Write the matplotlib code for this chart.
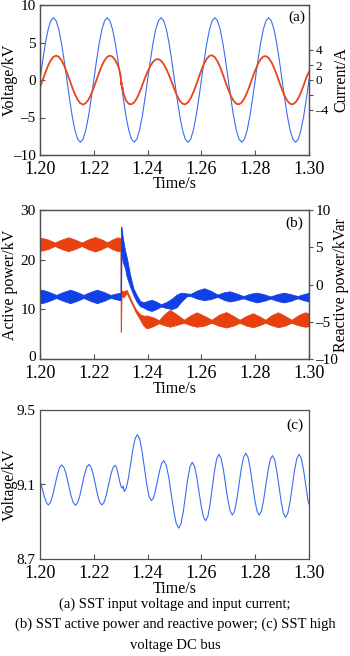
import numpy as np
import matplotlib
matplotlib.use("Agg")
import matplotlib.pyplot as plt
from matplotlib.transforms import ScaledTranslation

plt.rcParams['font.family'] = ['Liberation Serif', 'DejaVu Serif']


# ---- (a) SST input voltage and input current ----
time_a = np.round(1.2 + np.arange(101) * 0.001, 4)
voltage_a = [0.00, 2.56, 4.88, 6.71, 7.89, 8.30, 7.89, 6.71, 4.88, 2.56,
             0.00, -2.56, -4.88, -6.71, -7.89, -8.30, -7.89, -6.71, -4.88, -2.56,
             0.00, 2.56, 4.88, 6.71, 7.89, 8.30, 7.89, 6.71, 4.88, 2.56,
             0.00, -2.56, -4.88, -6.71, -7.89, -8.30, -7.89, -6.71, -4.88, -2.56,
             0.00, 2.56, 4.88, 6.71, 7.89, 8.30, 7.89, 6.71, 4.88, 2.56,
             0.00, -2.56, -4.88, -6.71, -7.89, -8.30, -7.89, -6.71, -4.88, -2.56,
             0.00, 2.56, 4.88, 6.71, 7.89, 8.30, 7.89, 6.71, 4.88, 2.56,
             0.00, -2.56, -4.88, -6.71, -7.89, -8.30, -7.89, -6.71, -4.88, -2.56,
             0.00, 2.56, 4.88, 6.71, 7.89, 8.30, 7.89, 6.71, 4.88, 2.56,
             0.00, -2.56, -4.88, -6.71, -7.89, -8.30, -7.89, -6.71, -4.88, -2.56,
             0.00]

current_time = np.concatenate([
    1.2 + np.arange(30) * 0.001,
    [1.2295, 1.2300, 1.2302, 1.2303, 1.2305, 1.2307, 1.2310],
    1.232 + np.arange(69) * 0.001,
])
current_a = [-1.00, 0.00, 1.00, 1.91, 2.63, 3.09, 3.25, 3.09, 2.63, 1.91,
             1.00, 0.00, -1.00, -1.91, -2.63, -3.09, -3.28, -3.09, -2.63, -1.91,
             -1.00, 0.00, 1.00, 1.91, 2.63, 3.09, 3.25, 3.09, 2.63, 1.91,
             1.35, 0.60, -0.60, -0.30, -1.20, -1.00, -1.80,
             -2.75, -3.17, -3.24, -2.98, -2.44, -1.65, -0.71, 0.26,
             1.11, 1.85, 2.41, 2.73, 2.79, 2.57, 2.10, 1.43, 0.61, -0.31,
             -1.29, -2.15, -2.80, -3.17, -3.24, -2.98, -2.44, -1.65, -0.71, 0.31,
             1.31, 2.18, 2.84, 3.22, 3.29, 3.03, 2.48, 1.68, 0.72, -0.31,
             -1.29, -2.15, -2.80, -3.17, -3.24, -2.98, -2.44, -1.65, -0.71, 0.30,
             1.27, 2.12, 2.76, 3.12, 3.19, 2.94, 2.40, 1.63, 0.70, -0.31,
             -1.29, -2.15, -2.80, -3.17, -3.24, -2.98, -2.44, -1.65, -0.71, 0.31,
             1.10]

# ---- (b) active power (band) / reactive power (band) ----
p_time = [1.2000, 1.2005, 1.2030, 1.2055, 1.2080, 1.2105, 1.2130, 1.2155, 1.2180,
          1.2205, 1.2228, 1.2250, 1.2270, 1.2290, 1.22995, 1.2300, 1.2301,
          1.2303, 1.2310, 1.2322, 1.2340, 1.2355, 1.2370, 1.2385, 1.2397,
          1.2420, 1.2442, 1.2462, 1.2483, 1.2510, 1.2535, 1.2560, 1.2583,
          1.2610, 1.2638, 1.2665, 1.2692, 1.2718, 1.2742, 1.2768, 1.2792,
          1.2815, 1.2838, 1.2860, 1.2885, 1.2910, 1.2935, 1.2960, 1.2985, 1.3000]
p_low = [21.9, 21.8, 22.15, 22.75, 22.15, 21.7, 22.15, 22.75, 22.1,
         21.65, 22.1, 22.7, 22.1, 21.7, 21.9, 5.5, 5.5,
         12.8, 12.4, 13.3, 11.25, 9.5, 8.1, 6.7, 6.15,
         6.6, 7.2, 6.8, 6.5, 6.9, 7.3, 6.8, 6.5,
         6.7, 7.3, 6.7, 6.35, 6.7, 7.3, 6.7, 6.4,
         6.8, 7.3, 6.8, 6.4, 6.7, 7.3, 6.8, 6.5, 6.6]
p_high = [24.3, 24.4, 24.05, 23.45, 24.05, 24.5, 24.05, 23.45, 24.1,
          24.55, 24.1, 23.5, 24.1, 24.5, 24.3, 24.0, 14.0,
          13.8, 13.6, 13.9, 11.75, 10.1, 9.1, 8.7, 8.75,
          8.4, 7.8, 9.0, 9.9, 8.9, 7.9, 8.8, 9.4,
          8.7, 7.9, 8.9, 9.45, 8.7, 7.9, 8.7, 9.2,
          8.6, 7.9, 8.8, 9.4, 8.7, 7.9, 8.8, 9.4, 9.2]

q_time = [1.2000, 1.2008, 1.2034, 1.2060, 1.2087, 1.2112, 1.2137, 1.2162, 1.2187,
          1.2212, 1.2237, 1.2262, 1.2285, 1.22995, 1.2301, 1.2303, 1.2308,
          1.2316, 1.2322, 1.2335, 1.2347, 1.2359, 1.2372, 1.2385, 1.2400,
          1.2415, 1.2432, 1.2450, 1.2470, 1.2490, 1.2508, 1.2525, 1.2545,
          1.2560, 1.2585, 1.2610, 1.2635, 1.2660, 1.2683, 1.2706, 1.2730,
          1.2756, 1.2781, 1.2806, 1.2831, 1.2857, 1.2882, 1.2907, 1.2932,
          1.2957, 1.2980, 1.3000]
q_low = [-2.4, -2.5, -2.2, -1.8, -2.2, -2.5, -2.2, -1.8, -2.2,
         -2.5, -2.2, -1.8, -2.0, -2.1, -2.0, 4.5, 3.0,
         2.2, 1.1, -0.3, -1.4, -2.3, -2.9, -3.1, -3.4,
         -3.55, -3.3, -2.95, -3.15, -3.3, -3.05, -2.3, -1.6,
         -1.55, -1.9, -2.1, -1.95, -1.65, -2.05, -2.28, -2.1,
         -1.85, -2.15, -2.4, -2.2, -1.9, -2.2, -2.4, -2.2,
         -1.85, -2.1, -2.3]
q_high = [-0.8, -0.7, -1.0, -1.4, -1.0, -0.7, -1.0, -1.4, -1.0,
          -0.7, -1.0, -1.4, -1.2, -1.1, 7.7, 7.7, 6.2,
          4.6, 3.7, 1.3, -0.5, -1.4, -2.2, -2.4, -2.2,
          -2.05, -2.3, -2.65, -2.35, -1.9, -1.35, -1.1, -1.2,
          -1.25, -0.8, -0.5, -0.85, -1.35, -1.05, -0.92, -1.2,
          -1.55, -1.25, -1.1, -1.3, -1.6, -1.3, -1.1, -1.3,
          -1.55, -1.3, -1.1]

# ---- (c) high voltage DC bus ----
dc_time = [1.2000, 1.2008, 1.2016, 1.2024, 1.2031,
           1.20393, 1.20477, 1.2056, 1.20643, 1.20727, 1.2081,
           1.20895, 1.2098, 1.21065, 1.2115, 1.21235, 1.2132,
           1.21403, 1.21487, 1.2157, 1.21653, 1.21737, 1.2182,
           1.2190, 1.2198, 1.2206, 1.2214, 1.2222, 1.2230,
           1.22382, 1.22463, 1.22545, 1.22627, 1.22708, 1.2279,
           1.22835, 1.2288, 1.22925, 1.2297, 1.23015, 1.2306,
           1.2309, 1.2313,
           1.23212, 1.23293, 1.23375, 1.23457, 1.23538, 1.2362,
           1.23707, 1.23793, 1.2388, 1.23967, 1.24053, 1.2414,
           1.24217, 1.24293, 1.2437, 1.24447, 1.24523, 1.2460,
           1.24693, 1.24787, 1.2488, 1.24973, 1.25067, 1.2516,
           1.25243, 1.25327, 1.2541, 1.25493, 1.25577, 1.2566,
           1.25743, 1.25827, 1.2591, 1.25993, 1.26077, 1.2616,
           1.26242, 1.26323, 1.26405, 1.26487, 1.26568, 1.2665,
           1.26733, 1.26817, 1.2690, 1.26983, 1.27067, 1.2715,
           1.27233, 1.27317, 1.2740, 1.27483, 1.27567, 1.2765,
           1.27733, 1.27817, 1.2790, 1.27983, 1.28067, 1.2815,
           1.28232, 1.28313, 1.28395, 1.28477, 1.28558, 1.2864,
           1.28722, 1.28803, 1.28885, 1.28967, 1.29048, 1.2913,
           1.29213, 1.29297, 1.2938, 1.29463, 1.29547, 1.2963,
           1.29713, 1.29797, 1.2988, 1.29963, 1.3000]
dc_volt = [9.120, 9.080, 9.035, 9.003, 8.990,
           9.004, 9.044, 9.098, 9.151, 9.191, 9.205,
           9.190, 9.151, 9.097, 9.042, 9.003, 8.988,
           9.003, 9.043, 9.098, 9.153, 9.193, 9.208,
           9.193, 9.154, 9.099, 9.045, 9.005, 8.990,
           9.004, 9.043, 9.097, 9.150, 9.189, 9.203,
           9.195, 9.172, 9.142, 9.111, 9.088, 9.080,
           9.092, 9.062,
           9.082, 9.139, 9.215, 9.292, 9.348, 9.368,
           9.344, 9.279, 9.191, 9.102, 9.037, 9.013,
           9.027, 9.067, 9.121, 9.174, 9.214, 9.228,
           9.204, 9.138, 9.047, 8.957, 8.890, 8.866,
           8.890, 8.954, 9.043, 9.131, 9.195, 9.219,
           9.198, 9.141, 9.062, 8.984, 8.926, 8.905,
           8.929, 8.994, 9.084, 9.173, 9.238, 9.262,
           9.240, 9.181, 9.099, 9.018, 8.958, 8.936,
           8.958, 9.019, 9.102, 9.185, 9.246, 9.268,
           9.246, 9.185, 9.102, 9.019, 8.958, 8.936,
           8.957, 9.016, 9.096, 9.175, 9.234, 9.255,
           9.233, 9.172, 9.089, 9.006, 8.945, 8.923,
           8.946, 9.008, 9.093, 9.177, 9.239, 9.262,
           9.240, 9.179, 9.096, 9.013, 8.995]

x_ticks = [1.20, 1.22, 1.24, 1.26, 1.28, 1.30]
x_labels = ['1.20', '1.22', '1.24', '1.26', '1.28', '1.30']
captions = ['(a) SST input voltage and input current;',
            '(b) SST active power and reactive power; (c) SST high',
            'voltage DC bus']

BLUE = '#3b6cf0'
RED = '#e8451c'
BLUE_B = '#1140e6'
RED_B = '#e8400f'
SPINE = '#505050'
DASH = '\u2013'


def style_axis(ax, top_px, h_px, xlabel_top_px):
    ax.set_xlim(1.2, 1.3)
    ax.set_xticks(x_ticks)
    ax.set_xticklabels(x_labels)
    ax.tick_params(axis='both', direction='in', length=3.5, width=0.8,
                   color=SPINE)
    ax.tick_params(axis='x', labelsize=13, pad=4.5)
    ax.tick_params(axis='y', labelsize=11, pad=3)
    for s in ax.spines.values():
        s.set_color(SPINE)
        s.set_linewidth(0.9)
    ax.set_xlabel('Time/s', fontsize=11.5)
    ax.xaxis.set_label_coords(0.5, (top_px + h_px - xlabel_top_px) / h_px)
    ax.yaxis.set_label_coords((18 - 40) / 269, 0.5)


def style_right(ax, size):
    ax.tick_params(axis='y', direction='out', length=3, width=0.8,
                   labelsize=size, pad=1.5, color=SPINE)
    for s in ax.spines.values():
        s.set_color(SPINE)
        s.set_linewidth(0.9)
    ax.yaxis.set_label_coords((333 - 40) / 269, 0.5)


fig = plt.figure(figsize=(3.5, 6.56), dpi=100)
L, W = 40 / 350, 269 / 350

# (a)
ax_a = fig.add_axes([L, (656 - 155) / 656, W, 150 / 656])
ax_a.plot(time_a, voltage_a, color=BLUE, lw=0.8)
ax_a.set_ylim(-10, 10)
ax_a.set_yticks([-10, -5, 0, 5, 10])
ax_a.set_yticklabels([DASH + '10', DASH + '5', '0', '5', '10'])
ax_a.set_ylabel('Voltage/kV', fontsize=11.5)
style_axis(ax_a, 5, 150, 176)
ax_a2 = ax_a.twinx()
ax_a2.plot(current_time, current_a, color=RED, lw=1.3)
ax_a2.set_ylim(-10, 10)
ax_a2.set_yticks([-4, -2, 0, 2, 4])
ax_a2.set_yticklabels([DASH + '4', '', '0', '2', '4'])
ax_a2.set_ylabel('Current/A', fontsize=11.5)
style_right(ax_a2, 9.5)
ax_a.text(0.985, 0.96, '(a)', transform=ax_a.transAxes, ha='right', va='top', fontsize=11)

# (b)
ax_b = fig.add_axes([L, (656 - 359) / 656, W, 149 / 656])
ax_b.fill_between(p_time, p_low, p_high, color=RED_B, lw=0.6, edgecolor=RED_B)
ax_b.set_ylim(0, 30)
ax_b.set_yticks([0, 10, 20, 30])
ax_b.set_ylabel('Active power/kV', fontsize=11.5)
style_axis(ax_b, 210, 149, 381)
# lift the "0" a little so it clears "1.20"
zero_lbl = ax_b.get_yticklabels()[0]
zero_lbl.set_transform(zero_lbl.get_transform() + ScaledTranslation(0, 2.5 / 72, fig.dpi_scale_trans))
ax_b2 = ax_b.twinx()
ax_b2.fill_between(q_time, q_low, q_high, color=BLUE_B, lw=0.6, edgecolor=BLUE_B)
ax_b2.set_ylim(-10, 10)
ax_b2.set_yticks([-10, -5, 0, 5, 10])
ax_b2.set_yticklabels([DASH + '10', DASH + '5', '0', '5', '10'])
ax_b2.set_ylabel('Reactive power/kVar', fontsize=11.5)
style_right(ax_b2, 11)
ax_b.text(0.98, 0.955, '(b)', transform=ax_b.transAxes, ha='right', va='top', fontsize=11)

# (c)
ax_c = fig.add_axes([L, (656 - 559) / 656, W, 149 / 656])
ax_c.plot(dc_time, dc_volt, color=BLUE, lw=0.8)
ax_c.set_ylim(8.7, 9.5)
ax_c.set_yticks([8.7, 9.1, 9.5])
ax_c.set_yticklabels(['8.7', '9.1', '9.5'])
ax_c.set_ylabel('Voltage/kV', fontsize=11.5)
style_axis(ax_c, 410, 149, 581)
ax_c.text(0.98, 0.945, '(c)', transform=ax_c.transAxes, ha='right', va='top', fontsize=11)

# captions
for y, line in zip([604, 624, 646], captions):
    fig.text(0.5, 1 - y / 656, line, ha='center', va='center', fontsize=10.5)

fig.savefig('out.png', dpi=100)
